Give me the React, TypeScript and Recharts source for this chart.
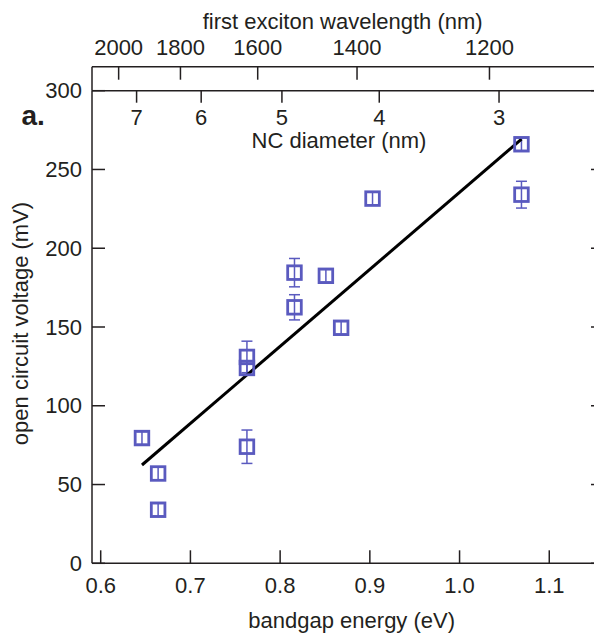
import { ScatterChart, Scatter, XAxis, YAxis, ErrorBar, ReferenceLine, Label } from 'recharts';

// measured points: bandgap (eV), Voc (mV), Voc error (mV)
const bandgap = [0.646, 0.664, 0.664, 0.763, 0.763, 0.763, 0.816, 0.816, 0.851, 0.868, 0.903, 1.069, 1.069];
const voc = [79.5, 57, 34, 74, 131, 124, 184.5, 162.5, 182.5, 149.5, 231.5, 266, 234];
const vocErr = [4, 4, 4, 10.6, 10, 4, 9, 8, 4, 4, 4, 4, 8.5];

// linear fit, end points
const fitBandgap = [0.646, 1.069];
const fitVoc = [62.4, 269.2];

const energyTicks = [0.6, 0.7, 0.8, 0.9, 1.0, 1.1];
const vocTicks = [0, 50, 100, 150, 200, 250, 300];
const wavelengthTicks = [2000, 1800, 1600, 1400, 1200];
const diameterLabels = ['7', '6', '5', '4', '3'];
const diameterEnergies = [0.64, 0.712, 0.802, 0.9105, 1.044];

const X_DOMAIN = [0.5903, 1.161];
const Y_DOMAIN = [0, 300];

const FONT = '"Liberation Sans", Arial, Helvetica, sans-serif';
const INK = '#231f20';
const BLUE = '#5a5abf';
const AXIS = { stroke: INK, strokeWidth: 1.5 };

const points = bandgap.map((e, i) => ({ x: e, y: voc[i], err: vocErr[i] }));
const fitLine = fitBandgap.map((e, i) => ({ x: e, y: fitVoc[i] }));

// tick = inward line of length (lx, ly) from the axis point + optional label at (dx, dy)
function makeTick(lx: number, ly: number, dx: number, dy: number, anchor: string, format?: (v: number) => string) {
  return (props: any) => (
    <g>
      <line x1={props.x} y1={props.y} x2={props.x + lx} y2={props.y + ly} stroke={INK} strokeWidth={1.5} />
      {format && (
        <text x={props.x + dx} y={props.y + dy} textAnchor={anchor} fontSize={22} fontFamily={FONT} fill={INK}>
          {format(props.payload.value)}
        </text>
      )}
    </g>
  );
}

function Square(props: any) {
  const { cx, cy } = props;
  if (cx == null || cy == null) return <g />;
  return (
    <rect x={cx - 6.8} y={cy - 6.8} width={13.6} height={13.6} fill="none" stroke={BLUE} strokeWidth={2.8} />
  );
}

const Nothing = () => <g />;
const textProps = { fontSize: 22, fontFamily: FONT, fill: INK };

export default function App() {
  return (
    <div style={{ position: 'absolute', left: 0, top: 0, width: 594, height: 634, overflow: 'hidden', background: '#fff' }}>
      <ScatterChart width={612} height={634} margin={{ top: 0, right: 0, bottom: 0, left: 0 }}>
        <XAxis
          dataKey="x"
          type="number"
          domain={X_DOMAIN}
          allowDataOverflow
          ticks={energyTicks}
          interval={0}
          height={70.7}
          axisLine={AXIS}
          tickLine={false}
          tickSize={0}
          tickMargin={0}
          tick={makeTick(0, -13, 0, 30, 'middle', (v) => v.toFixed(1))}
        >
          <Label
            content={() => (
              <text x={351.7} y={628} textAnchor="middle" {...textProps}>
                bandgap energy (eV)
              </text>
            )}
          />
        </XAxis>
        <XAxis
          xAxisId="nc"
          dataKey="x"
          orientation="top"
          type="number"
          domain={X_DOMAIN}
          allowDataOverflow
          ticks={diameterEnergies}
          interval={0}
          height={24}
          axisLine={AXIS}
          tickLine={false}
          tickSize={0}
          tickMargin={0}
          tick={makeTick(0, 12, 0, 34.3, 'middle', (v) => diameterLabels[diameterEnergies.indexOf(v)])}
        >
          <Label
            content={() => (
              <text x={339} y={148} textAnchor="middle" {...textProps}>
                NC diameter (nm)
              </text>
            )}
          />
        </XAxis>
        <XAxis
          xAxisId="wl"
          dataKey="x"
          orientation="top"
          type="number"
          domain={X_DOMAIN}
          allowDataOverflow
          ticks={wavelengthTicks.map((w) => 1240 / w)}
          interval={0}
          height={66.7}
          axisLine={AXIS}
          tickLine={false}
          tickSize={0}
          tickMargin={0}
          tick={makeTick(0, 13, 0, -11.7, 'middle', (v) => String(Math.round(1240 / v)))}
        >
          <Label
            content={() => (
              <text x={342.7} y={29} textAnchor="middle" {...textProps}>
                first exciton wavelength (nm)
              </text>
            )}
          />
        </XAxis>
        <YAxis
          dataKey="y"
          type="number"
          domain={Y_DOMAIN}
          allowDataOverflow
          ticks={vocTicks}
          interval={0}
          width={92}
          axisLine={AXIS}
          tickLine={false}
          tickSize={0}
          tickMargin={0}
          tick={makeTick(13, 0, -10, 7.7, 'end', (v) => String(v))}
        >
          <Label
            content={() => (
              <text x={28.3} y={323.5} textAnchor="middle" transform="rotate(-90 28.3 323.5)" {...textProps}>
                open circuit voltage (mV)
              </text>
            )}
          />
          <Label
            content={() => (
              <text x={21.5} y={125} fontSize={28} fontWeight="bold" fontFamily={FONT} fill={INK}>
                a.
              </text>
            )}
          />
        </YAxis>
        <YAxis
          yAxisId="right"
          dataKey="y"
          orientation="right"
          type="number"
          domain={Y_DOMAIN}
          allowDataOverflow
          ticks={vocTicks}
          interval={0}
          width={8}
          axisLine={AXIS}
          tickLine={false}
          tickSize={0}
          tickMargin={0}
          tick={makeTick(-13, 0, 0, 0, 'end')}
        />
        <ReferenceLine
          segment={[
            { x: X_DOMAIN[0], y: Y_DOMAIN[1] },
            { x: X_DOMAIN[0], y: 315.2 },
          ]}
          ifOverflow="visible"
          stroke={INK}
          strokeWidth={1.5}
        />
        {/* hidden series so the secondary axes get their scales */}
        <Scatter xAxisId="nc" yAxisId="right" data={fitLine} shape={Nothing} isAnimationActive={false} />
        <Scatter xAxisId="wl" yAxisId="right" data={fitLine} shape={Nothing} isAnimationActive={false} />
        <Scatter
          data={fitLine}
          line={{ stroke: '#000', strokeWidth: 3 }}
          shape={Nothing}
          isAnimationActive={false}
        />
        <Scatter data={points} shape={<Square />} isAnimationActive={false}>
          <ErrorBar dataKey="err" direction="y" width={5.5} stroke={BLUE} strokeWidth={1.5} isAnimationActive={false} />
        </Scatter>
      </ScatterChart>
    </div>
  );
}
